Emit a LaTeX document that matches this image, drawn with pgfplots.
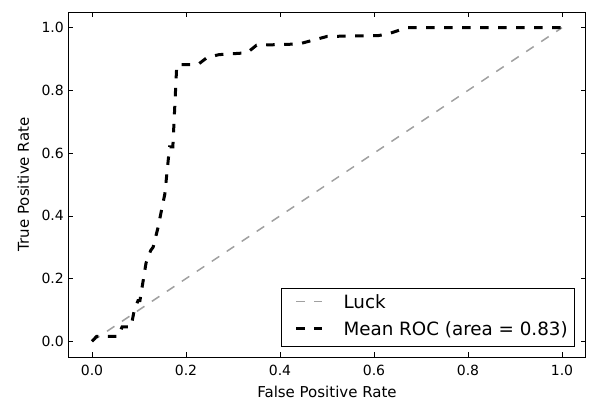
\documentclass[border=0pt]{standalone}
\usepackage{fontspec}
\setmainfont{DejaVu Sans}
\usepackage{pgfplots}
\pgfplotsset{compat=1.18}

\definecolor{luckgray}{RGB}{160,160,160}

\begin{document}
\begin{tikzpicture}
\useasboundingbox (-68.5pt,-43pt) rectangle (528.5pt,357pt);
\begin{axis}[
  scale only axis,
  width=517pt, height=345pt,
  xmin=-0.05, xmax=1.05, ymin=-0.05, ymax=1.05,
  xtick={0,0.2,0.4,0.6,0.8,1.0},
  ytick={0,0.2,0.4,0.6,0.8,1.0},
  /pgf/number format/assume math mode=true,
  /pgf/number format/.cd, fixed, fixed zerofill, precision=1, /pgfplots/.cd,
  tick align=inside,
  major tick length=5pt,
  tick style={black, line width=0.7pt},
  axis line style={line width=1pt},
  ticklabel style={font=\fontsize{14}{16}\selectfont, inner sep=0pt},
  xticklabel style={anchor=base, yshift=-18pt},
  yticklabel style={anchor=east, xshift=-4.5pt},
  xlabel={False Positive Rate},
  ylabel={True Positive Rate},
  label style={font=\fontsize{15}{17}\selectfont, inner sep=0pt},
  xlabel style={at={(axis description cs:0.5,0)}, anchor=base, yshift=-40pt},
  ylabel style={at={(axis description cs:0,0.5)}, anchor=base, yshift=39.5pt},
  legend cell align=left,
  legend image code/.code={\path (-6.5pt,2pt) (46pt,2pt); \draw[#1] (0pt,2pt) -- (26pt,2pt);},
  legend style={
    at={(axis description cs:0.98,0.03)}, anchor=south east,
    draw=black, line width=0.9pt,
    font=\fontsize{18.3}{20}\selectfont,
    inner xsep=7pt, inner ysep=7pt,
    row sep=10pt, column sep=0pt,
    nodes={inner sep=0pt, text height=13pt, text depth=4pt},
  },
]
\addplot[luckgray, line width=1.5pt, dash pattern=on 9pt off 9pt]
  coordinates {(0,0) (1,1)};
\addlegendentry{Luck}
\addplot[black, line width=3pt, dash pattern=on 8.5pt off 9.5pt]
  coordinates {
    (0,0) (0.01,0.016) (0.056,0.016) (0.064,0.046) (0.083,0.046)
    (0.09,0.10) (0.098,0.13) (0.102,0.13) (0.115,0.25) (0.125,0.29)
    (0.13,0.30) (0.14,0.36) (0.155,0.47) (0.165,0.62) (0.172,0.62)
    (0.18,0.87) (0.182,0.882) (0.225,0.882) (0.245,0.905) (0.27,0.914)
    (0.33,0.92) (0.35,0.944) (0.44,0.948) (0.50,0.972) (0.61,0.975)
    (0.63,0.98) (0.67,1.0) (1.0,1.0)
  };
\addlegendentry{Mean ROC (area = 0.83)}
\end{axis}
\end{tikzpicture}
\end{document}
